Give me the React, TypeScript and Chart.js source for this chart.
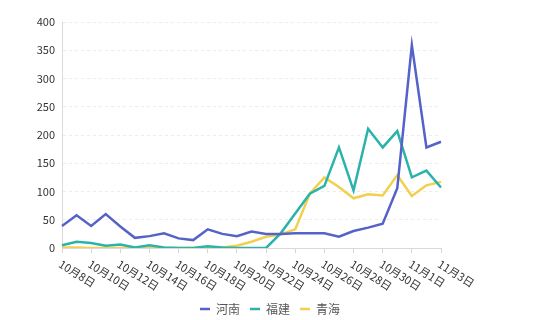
import React, { useEffect, useRef } from "react";
import { Chart, registerables } from "chart.js";

Chart.register(...registerables);

const dates = [
  "10月8日", "10月9日", "10月10日", "10月11日", "10月12日", "10月13日", "10月14日",
  "10月15日", "10月16日", "10月17日", "10月18日", "10月19日", "10月20日", "10月21日",
  "10月22日", "10月23日", "10月24日", "10月25日", "10月26日", "10月27日", "10月28日",
  "10月29日", "10月30日", "10月31日", "11月1日", "11月2日", "11月3日",
];

const henan = [39, 58, 39, 60, 38, 18, 21, 26, 17, 14, 33, 25, 21, 29, 25, 25, 26, 26, 26, 20, 30, 36, 43, 106, 359, 178, 188];
const fujian = [5, 11, 9, 4, 6, 1, 5, 1, 0, 0, 3, 1, 0, 0, 0, 26, 61, 96, 110, 178, 102, 211, 178, 207, 125, 137, 107];
const qinghai = [1, 1, 0, 0, 0, 0, 0, 0, 0, 0, 1, 1, 4, 11, 20, 24, 33, 96, 125, 108, 88, 95, 93, 129, 92, 111, 117];

const seriesNames = ["河南", "福建", "青海"];
const seriesColors = ["#5563c8", "#2bb3ab", "#f1d04d"];

const FONT = "'Noto Sans CJK SC', 'Noto Sans', sans-serif";

const rotatedXLabels = {
  id: "rotatedXLabels",
  afterDraw(chart: any) {
    const xs = chart.scales.x;
    const ctx = chart.ctx;
    const labels: string[] = chart.data.labels;
    ctx.save();
    ctx.font = `11px ${FONT}`;
    ctx.fillStyle = "#333";
    ctx.textAlign = "left";
    ctx.textBaseline = "middle";
    labels.forEach((lab, i) => {
      if (i % 2 !== 0) return;
      const x = xs.getPixelForValue(i);
      ctx.save();
      ctx.translate(x - 2, xs.top + 15);
      ctx.rotate((32 * Math.PI) / 180);
      ctx.fillText(lab, 0, 0);
      ctx.restore();
    });
    ctx.restore();
  },
};

export default function App() {
  const ref = useRef<HTMLCanvasElement | null>(null);

  useEffect(() => {
    if (!ref.current) return;
    Chart.defaults.font.family = FONT;
    const data = [henan, fujian, qinghai];
    const chart = new Chart(ref.current, {
      type: "line",
      data: {
        labels: dates,
        datasets: data.map((d, i) => ({
          label: seriesNames[i],
          data: d,
          borderColor: seriesColors[i],
          backgroundColor: seriesColors[i],
          borderWidth: 2.5,
          pointRadius: 0,
          tension: 0,
          fill: false,
        })),
      },
      options: {
        animation: false,
        responsive: false,
        maintainAspectRatio: false,
        layout: { padding: { left: 0, right: 0, top: 22, bottom: -5 } },
        plugins: {
          tooltip: { enabled: false },
          legend: {
            position: "bottom",
            labels: {
              usePointStyle: true,
              pointStyle: "line",
              pointStyleWidth: 10,
              boxHeight: 12,
              padding: 10,
              color: "#555",
              font: { size: 12, family: FONT },
            },
          },
        },
        scales: {
          x: {
            type: "category",
            offset: false,
            afterFit: (s: any) => {
              s.height = 45;
            },
            grid: {
              display: true,
              drawOnChartArea: false,
              drawTicks: true,
              tickLength: 5,
              tickColor: (c: any) => (c.index % 2 === 0 ? "#d6d6d6" : "rgba(0,0,0,0)"),
            },
            border: { display: true, color: "#d9d9d9", width: 1 },
            ticks: { display: false, autoSkip: false },
          },
          y: {
            min: 0,
            max: 400,
            afterFit: (s: any) => {
              s.width = 62;
            },
            ticks: {
              stepSize: 50,
              padding: 7,
              color: "#333",
              font: { size: 11, family: FONT },
            },
            grid: {
              color: "#ececec",
              drawTicks: false,
            },
            border: { display: true, color: "#dadada", dash: [3, 3] as any },
          },
          y2: {
            position: "right",
            display: true,
            afterFit: (s: any) => {
              s.width = 99;
            },
            grid: { display: false, drawOnChartArea: false, drawTicks: false },
            border: { display: false },
            ticks: { display: false },
          },
        },
      },
      plugins: [rotatedXLabels],
    });
    return () => chart.destroy();
  }, []);

  return (
    <div style={{ position: "fixed", left: 0, top: 0, width: 540, height: 320, background: "#fff" }}>
      <canvas ref={ref} width={540} height={320} style={{ width: 540, height: 320 }} />
    </div>
  );
}
